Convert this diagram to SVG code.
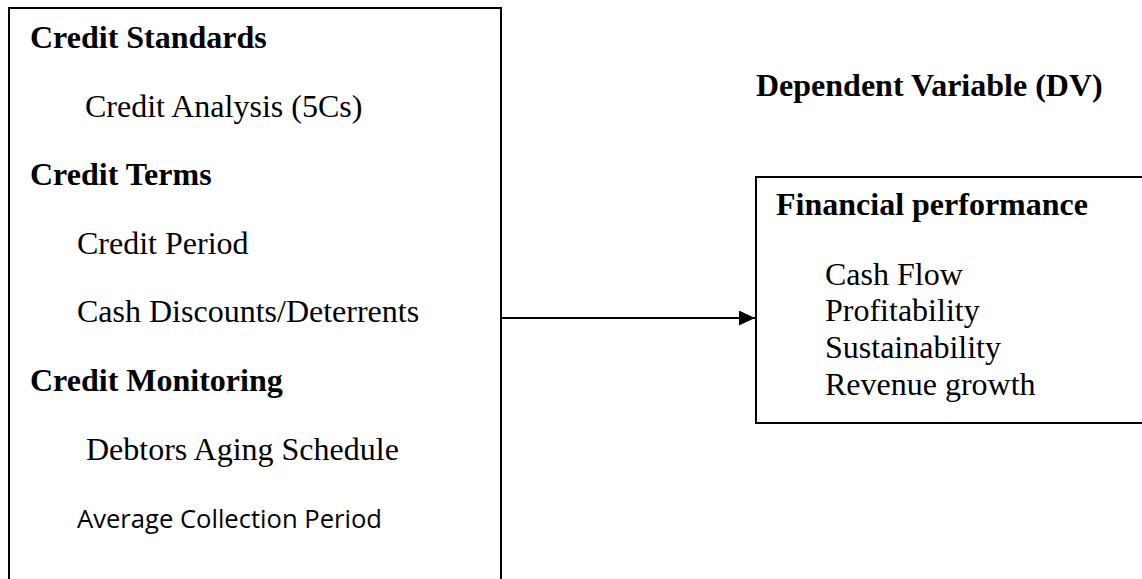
<svg xmlns="http://www.w3.org/2000/svg" width="1142" height="579" viewBox="0 0 1142 579">
  <style>
    .box { fill: #ffffff; stroke: #000000; stroke-width: 2; }
    .hd { font-family: "Liberation Serif", "Times New Roman", serif; font-size: 32px; font-weight: bold; fill: #000000; }
    .tx { font-family: "Liberation Serif", "Times New Roman", serif; font-size: 32px; fill: #000000; }
    .sans { font-family: "Open Sans", "Liberation Sans", sans-serif; font-size: 25px; fill: #000000; }
    .conn { stroke: #000000; stroke-width: 2; fill: none; }
  </style>
  <defs>
    <marker id="arrow" markerWidth="16" markerHeight="15" refX="16" refY="7.5" orient="auto" markerUnits="userSpaceOnUse">
      <path d="M0,0 L16,7.5 L0,15 Z" fill="#000000"/>
    </marker>
  </defs>
  <rect width="1142" height="579" fill="#ffffff"/>

  <g id="independent-variables">
    <rect class="box" x="9" y="8" width="492" height="600"/>
    <text class="hd" x="30" y="48">Credit Standards</text>
    <text class="tx" x="85" y="117">Credit Analysis (5Cs)</text>
    <text class="hd" x="30" y="185">Credit Terms</text>
    <text class="tx" x="77" y="254">Credit Period</text>
    <text class="tx" x="77" y="322">Cash Discounts/Deterrents</text>
    <text class="hd" x="30" y="391">Credit Monitoring</text>
    <text class="tx" x="86" y="460">Debtors Aging Schedule</text>
    <text class="sans" x="77" y="528" textLength="305" lengthAdjust="spacingAndGlyphs">Average Collection Period</text>
  </g>

  <g id="dv-label">
    <text class="hd" x="756" y="96">Dependent Variable (DV)</text>
  </g>

  <g id="financial-performance">
    <rect class="box" x="756" y="177" width="400" height="246"/>
    <text class="hd" x="776" y="215">Financial performance</text>
    <text class="tx" x="825" y="285">Cash Flow</text>
    <text class="tx" x="825" y="321">Profitability</text>
    <text class="tx" x="825" y="358">Sustainability</text>
    <text class="tx" x="825" y="395">Revenue growth</text>
  </g>

  <g id="connectors">
    <line class="conn" x1="501" y1="318" x2="755" y2="318" marker-end="url(#arrow)"/>
  </g>
</svg>
